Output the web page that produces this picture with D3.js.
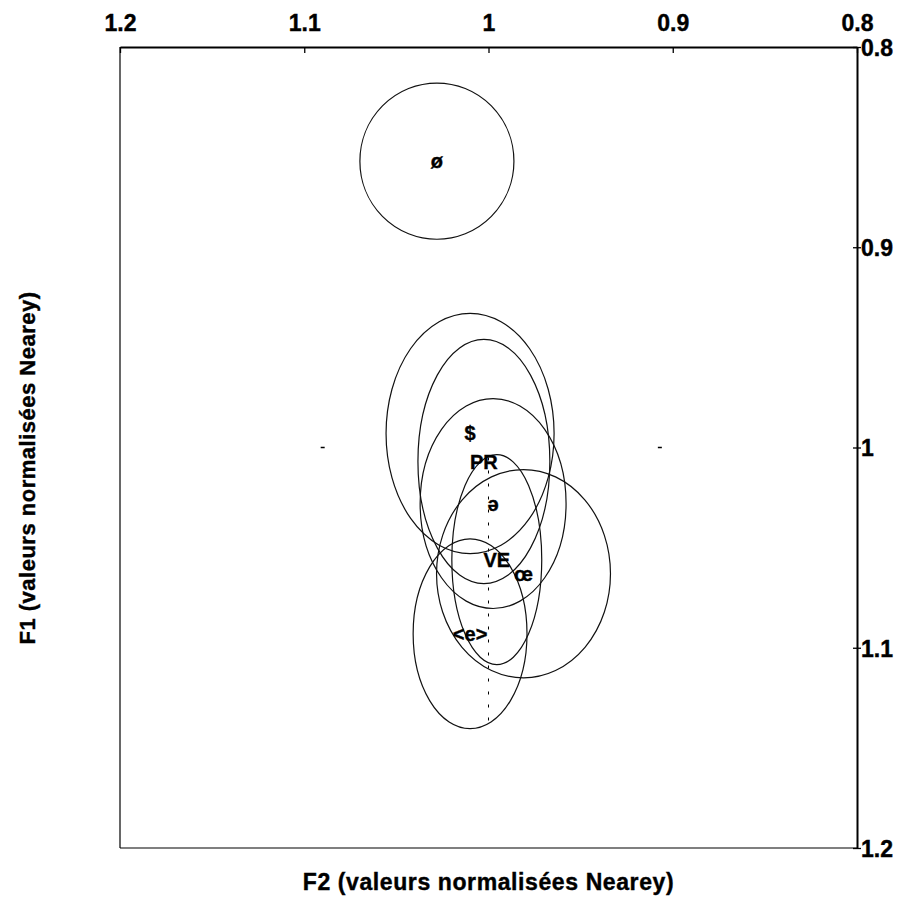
<!DOCTYPE html>
<html>
<head>
<meta charset="utf-8">
<script src="https://cdn.jsdelivr.net/npm/d3@7"></script>
<style>
  body { margin: 0; background: #fff; }
  svg text { font-family: 'Liberation Sans', Arial, sans-serif; font-weight: bold; fill: #000; stroke: #000; stroke-width: 0.4px; }
  svg .tick text { font-family: 'Liberation Sans Narrow', 'Arial Narrow', 'Liberation Sans', sans-serif; }
</style>
</head>
<body>
<div id="chart"></div>
<script>
// vowel categories and their ellipse (F2, F1 centre + half axes, normalised Nearey values)
const vowels = ['ø', '$', 'PR', 'ə', 'VE', 'œ', '<e>']
const f2Centre = [1.028, 1.010, 1.0025, 0.9975, 0.9955, 0.981, 1.010]
const f1Centre = [0.857, 0.993, 1.007, 1.028, 1.056, 1.063, 1.093]
const f2Radius = [0.0418, 0.0456, 0.0358, 0.0396, 0.0244, 0.0472, 0.0309]
const f1Radius = [0.039, 0.060, 0.061, 0.0524, 0.0524, 0.052, 0.0474]
const tilt = [0, 0, 0, 0, 0, 0, 0]

const f2Ticks = [1.2, 1.1, 1, 0.9, 0.8]
const f1Ticks = [0.8, 0.9, 1, 1.1, 1.2]

// centre marks of the crosshair at (1, 1)
const crossF2 = [1.09, 0.907]
const crossF1 = [1.005, 1.14]

const width = 905
const height = 917
const margin = { top: 47, right: 48, bottom: 69, left: 120 }

const svg = d3.select('#chart').append('svg')
  .attr('width', width)
  .attr('height', height)

const x = d3.scaleLinear()
  .domain([1.2, 0.8])
  .range([margin.left, width - margin.right])

const y = d3.scaleLinear()
  .domain([0.8, 1.2])
  .range([margin.top, height - margin.bottom])

// frame: left and bottom plain lines
svg.append('line')
  .attr('x1', x(1.2)).attr('x2', x(1.2))
  .attr('y1', y(0.8)).attr('y2', y(1.2))
  .attr('stroke', '#000').attr('stroke-width', 1.2)
svg.append('line')
  .attr('x1', x(1.2)).attr('x2', x(0.8))
  .attr('y1', y(1.2)).attr('y2', y(1.2))
  .attr('stroke', '#000').attr('stroke-width', 1.2)

// top axis (F2)
let topAxis = svg.append('g')
  .attr('transform', `translate(0,${y(0.8)})`)
  .call(d3.axisTop(x).tickValues(f2Ticks).tickSizeInner(-6).tickSizeOuter(0).tickFormat(d3.format('')))
topAxis.select('.domain').attr('stroke-width', 2)
topAxis.selectAll('.tick text')
  .attr('font-size', 23)
  .attr('y', -16)
  .attr('dy', 0)
topAxis.selectAll('.tick line').attr('stroke-width', 1.3)

// right axis (F1)
let rightAxis = svg.append('g')
  .attr('transform', `translate(${x(0.8)},0)`)
  .call(d3.axisRight(y).tickValues(f1Ticks).tickSizeInner(4).tickSizeOuter(0).tickFormat(d3.format('')))
rightAxis.select('.domain').attr('stroke-width', 2)
rightAxis.selectAll('.tick line').attr('x1', -4).attr('stroke-width', 1.3)
rightAxis.selectAll('.tick text')
  .attr('font-size', 23)
  .attr('x', 4)
  .attr('dy', '0.36em')

// crosshair through (1, 1)
svg.append('line')
  .attr('x1', x(1)).attr('x2', x(1))
  .attr('y1', y(crossF1[0])).attr('y2', y(crossF1[1]))
  .attr('stroke', '#000')
  .attr('stroke-width', 1)
  .attr('stroke-dasharray', '3,10')
svg.selectAll('.cross')
  .data(crossF2)
  .join('line')
  .attr('class', 'cross')
  .attr('x1', d => x(d) - 2).attr('x2', d => x(d) + 2)
  .attr('y1', y(1)).attr('y2', y(1))
  .attr('stroke', '#000')
  .attr('stroke-width', 1.5)

const data = vowels.map((v, i) => ({
  label: v,
  f2: f2Centre[i],
  f1: f1Centre[i],
  rf2: f2Radius[i],
  rf1: f1Radius[i],
  angle: tilt[i]
}))

svg.append('g')
  .selectAll('ellipse')
  .data(data)
  .join('ellipse')
  .attr('cx', d => x(d.f2))
  .attr('cy', d => y(d.f1))
  .attr('rx', d => Math.abs(x(d.f2 + d.rf2) - x(d.f2)))
  .attr('ry', d => Math.abs(y(d.f1 + d.rf1) - y(d.f1)))
  .attr('transform', d => `rotate(${d.angle},${x(d.f2)},${y(d.f1)})`)
  .attr('fill', 'none')
  .attr('stroke', '#111')
  .attr('stroke-width', 1.2)

svg.append('g')
  .selectAll('text')
  .data(data)
  .join('text')
  .attr('x', d => x(d.f2))
  .attr('y', d => y(d.f1))
  .attr('dy', '0.35em')
  .attr('text-anchor', 'middle')
  .attr('font-size', 20)
  .text(d => d.label)

// axis titles
svg.append('text')
  .attr('x', x(1))
  .attr('y', 890)
  .attr('text-anchor', 'middle')
  .attr('font-size', 23)
  .attr('letter-spacing', 0.6)
  .text('F2 (valeurs normalisées Nearey)')

svg.append('text')
  .attr('transform', 'translate(35,468) rotate(-90)')
  .attr('text-anchor', 'middle')
  .attr('font-size', 22)
  .attr('letter-spacing', 0.5)
  .text('F1 (valeurs normalisées Nearey)')
</script>
</body>
</html>
